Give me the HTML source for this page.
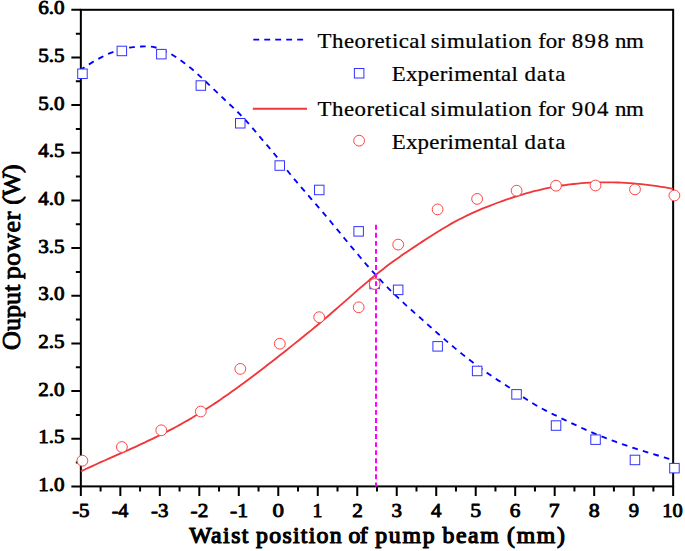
<!DOCTYPE html>
<html lang="en"><head><meta charset="utf-8"><title>Output power vs waist position of pump beam</title>
<style>
html,body{margin:0;padding:0;background:#fff;}
body{width:685px;height:551px;overflow:hidden;}
svg{display:block;}
text{font-family:"Liberation Serif","DejaVu Serif",serif;fill:#000;}
.tick{font-size:18.6px;stroke:#000;stroke-width:0.85px;stroke-linejoin:round;}
.axl{font-size:22.6px;stroke:#000;stroke-width:1.15px;stroke-linejoin:round;}
.leg{font-size:21.9px;stroke:#000;stroke-width:0.25px;}
.yl{font-weight:normal;font-size:25.3px;stroke:#000;stroke-width:0.9px;stroke-linejoin:round;}
</style></head><body>
<svg width="685" height="551" viewBox="0 0 685 551">
<rect width="685" height="551" fill="#fff"/>
<rect x="80.85" y="9.8" width="592.3" height="476.6" fill="none" stroke="#000" stroke-width="2"/>
<path d="M80.85,486.4 v9.5 M100.59,486.4 v5 M120.34,486.4 v9.5 M140.08,486.4 v5 M159.82,486.4 v9.5 M179.57,486.4 v5 M199.31,486.4 v9.5 M219.05,486.4 v5 M238.80,486.4 v9.5 M258.54,486.4 v5 M278.28,486.4 v9.5 M298.03,486.4 v5 M317.77,486.4 v9.5 M337.51,486.4 v5 M357.26,486.4 v9.5 M377.00,486.4 v5 M396.74,486.4 v9.5 M416.49,486.4 v5 M436.23,486.4 v9.5 M455.97,486.4 v5 M475.72,486.4 v9.5 M495.46,486.4 v5 M515.20,486.4 v9.5 M534.95,486.4 v5 M554.69,486.4 v9.5 M574.43,486.4 v5 M594.18,486.4 v9.5 M613.92,486.4 v5 M633.66,486.4 v9.5 M653.41,486.4 v5 M673.15,486.4 v9.5 M80.85,486.40 h-9.5 M80.85,462.57 h-5 M80.85,438.74 h-9.5 M80.85,414.91 h-5 M80.85,391.08 h-9.5 M80.85,367.25 h-5 M80.85,343.42 h-9.5 M80.85,319.59 h-5 M80.85,295.76 h-9.5 M80.85,271.93 h-5 M80.85,248.10 h-9.5 M80.85,224.27 h-5 M80.85,200.44 h-9.5 M80.85,176.61 h-5 M80.85,152.78 h-9.5 M80.85,128.95 h-5 M80.85,105.12 h-9.5 M80.85,81.29 h-5 M80.85,57.46 h-9.5 M80.85,33.63 h-5 M80.85,9.80 h-9.5" stroke="#000" stroke-width="2" fill="none"/>
<path d="M81.8,69.1 L85.8,66.4 L89.8,63.9 L93.7,61.4 L97.7,59.2 L101.7,57.1 L105.6,55.1 L109.6,53.3 L113.5,51.8 L117.5,50.4 L121.5,49.3 L125.4,48.3 L129.4,47.6 L133.4,47.1 L137.3,46.7 L141.3,46.5 L145.2,46.4 L149.2,46.5 L153.2,46.9 L157.1,47.9 L161.1,49.3 L165.0,51.0 L169.0,53.0 L173.0,55.2 L176.9,57.7 L180.9,60.5 L184.9,63.4 L188.8,66.5 L192.8,69.8 L196.7,73.3 L200.7,76.9 L204.7,80.5 L208.6,84.3 L212.6,88.1 L216.5,91.9 L220.5,95.7 L224.5,99.5 L228.4,103.2 L232.4,106.9 L236.4,110.7 L240.3,114.7 L244.3,118.8 L248.2,123.1 L252.2,127.7 L256.2,132.4 L260.1,137.1 L264.1,141.8 L268.1,146.4 L272.0,151.1 L276.0,155.9 L279.9,161.0 L283.9,166.2 L287.9,171.3 L291.8,176.2 L295.8,180.9 L299.7,185.6 L303.7,190.2 L307.7,194.8 L311.6,199.3 L315.6,203.9 L319.6,208.5 L323.5,213.1 L327.5,217.8 L331.4,222.5 L335.4,227.3 L339.4,232.1 L343.3,237.0 L347.3,241.8 L351.2,246.6 L355.2,251.3 L359.2,256.0 L363.1,260.7 L367.1,265.3 L371.1,269.8 L375.0,274.2 L379.0,278.5 L382.9,282.7 L386.9,286.8 L390.9,290.8 L394.8,294.7 L398.8,298.4 L402.8,302.1 L406.7,305.8 L410.7,309.3 L414.6,312.9 L418.6,316.4 L422.6,319.9 L426.5,323.5 L430.5,327.0 L434.4,330.5 L438.4,334.0 L442.4,337.4 L446.3,340.9 L450.3,344.3 L454.3,347.6 L458.2,350.9 L462.2,354.1 L466.1,357.2 L470.1,360.3 L474.1,363.4 L478.0,366.3 L482.0,369.2 L485.9,372.1 L489.9,374.8 L493.9,377.5 L497.8,380.1 L501.8,382.6 L505.8,385.2 L509.7,387.8 L513.7,390.5 L517.6,393.3 L521.6,396.1 L525.6,398.8 L529.5,401.4 L533.5,403.8 L537.5,406.1 L541.4,408.3 L545.4,410.4 L549.3,412.4 L553.3,414.3 L557.3,416.2 L561.2,418.2 L565.2,420.1 L569.1,422.0 L573.1,423.9 L577.1,425.7 L581.0,427.6 L585.0,429.4 L589.0,431.1 L592.9,432.8 L596.9,434.5 L600.8,436.1 L604.8,437.7 L608.8,439.2 L612.7,440.7 L616.7,442.2 L620.6,443.6 L624.6,444.9 L628.6,446.3 L632.5,447.6 L636.5,448.9 L640.5,450.2 L644.4,451.4 L648.4,452.6 L652.3,453.8 L656.3,455.0 L660.3,456.2 L664.2,457.4 L668.2,458.6 L672.1,459.7" fill="none" stroke="#0000ff" stroke-width="1.85" stroke-dasharray="5.7,5.27" stroke-dashoffset="2.49"/>
<g fill="#fff" stroke="#3333ff" stroke-width="1">
<rect x="77.7" y="69.0" width="9.5" height="9.5"/>
<rect x="117.1" y="46.2" width="9.5" height="9.5"/>
<rect x="156.6" y="49.4" width="9.5" height="9.5"/>
<rect x="196.1" y="80.8" width="9.5" height="9.5"/>
<rect x="235.5" y="118.5" width="9.5" height="9.5"/>
<rect x="275.0" y="160.8" width="9.5" height="9.5"/>
<rect x="314.5" y="185.2" width="9.5" height="9.5"/>
<rect x="353.9" y="226.6" width="9.5" height="9.5"/>
<rect x="393.4" y="285.1" width="9.5" height="9.5"/>
<rect x="432.9" y="341.6" width="9.5" height="9.5"/>
<rect x="472.4" y="366.2" width="9.5" height="9.5"/>
<rect x="511.8" y="389.6" width="9.5" height="9.5"/>
<rect x="551.3" y="420.8" width="9.5" height="9.5"/>
<rect x="590.8" y="434.9" width="9.5" height="9.5"/>
<rect x="630.2" y="455.2" width="9.5" height="9.5"/>
<rect x="669.7" y="463.4" width="9.5" height="9.5"/>
<rect x="369.9" y="279.2" width="9.5" height="9.5"/>
</g>
<path d="M80.8,471.4 L84.8,469.5 L88.8,467.7 L92.8,465.8 L96.8,464.0 L100.7,462.2 L104.7,460.5 L108.7,458.7 L112.7,456.9 L116.6,455.2 L120.6,453.4 L124.6,451.6 L128.6,449.9 L132.5,448.1 L136.5,446.3 L140.5,444.4 L144.5,442.6 L148.4,440.7 L152.4,438.8 L156.4,436.9 L160.4,435.0 L164.3,433.0 L168.3,430.9 L172.3,428.9 L176.3,426.7 L180.2,424.6 L184.2,422.3 L188.2,420.1 L192.2,417.7 L196.1,415.3 L200.1,412.9 L204.1,410.4 L208.1,407.8 L212.0,405.2 L216.0,402.6 L220.0,399.9 L224.0,397.1 L227.9,394.4 L231.9,391.5 L235.9,388.7 L239.9,385.8 L243.8,382.9 L247.8,380.0 L251.8,377.0 L255.8,374.0 L259.7,371.0 L263.7,367.9 L267.7,364.8 L271.7,361.8 L275.6,358.7 L279.6,355.5 L283.6,352.4 L287.6,349.3 L291.5,346.1 L295.5,342.9 L299.5,339.8 L303.5,336.5 L307.4,333.3 L311.4,330.1 L315.4,326.8 L319.4,323.5 L323.3,320.1 L327.3,316.7 L331.3,313.3 L335.3,309.8 L339.2,306.4 L343.2,302.9 L347.2,299.4 L351.2,295.9 L355.1,292.4 L359.1,288.9 L363.1,285.5 L367.1,282.1 L371.0,278.8 L375.0,275.5 L379.0,272.3 L383.0,269.2 L386.9,266.1 L390.9,263.1 L394.9,260.2 L398.9,257.4 L402.8,254.6 L406.8,251.9 L410.8,249.2 L414.8,246.6 L418.7,244.0 L422.7,241.4 L426.7,238.8 L430.7,236.3 L434.6,233.8 L438.6,231.3 L442.6,228.8 L446.6,226.5 L450.5,224.1 L454.5,221.9 L458.5,219.8 L462.5,217.8 L466.4,215.8 L470.4,213.9 L474.4,212.1 L478.4,210.4 L482.3,208.7 L486.3,207.1 L490.3,205.6 L494.3,204.0 L498.2,202.5 L502.2,201.1 L506.2,199.7 L510.2,198.3 L514.1,197.0 L518.1,195.8 L522.1,194.6 L526.1,193.4 L530.0,192.3 L534.0,191.2 L538.0,190.3 L542.0,189.3 L545.9,188.4 L549.9,187.6 L553.9,186.9 L557.9,186.2 L561.8,185.5 L565.8,185.0 L569.8,184.4 L573.8,184.0 L577.7,183.6 L581.7,183.2 L585.7,182.9 L589.7,182.7 L593.6,182.5 L597.6,182.4 L601.6,182.3 L605.6,182.3 L609.5,182.3 L613.5,182.4 L617.5,182.5 L621.5,182.7 L625.4,182.9 L629.4,183.1 L633.4,183.4 L637.4,183.8 L641.3,184.2 L645.3,184.6 L649.3,185.1 L653.3,185.6 L657.2,186.2 L661.2,186.8 L665.2,187.4 L669.2,188.1 L673.1,188.8" fill="none" stroke="#f0363a" stroke-width="1.85"/>
<g fill="#fff" stroke="#ff4444" stroke-width="1">
<circle cx="82.4" cy="460.7" r="5.4"/>
<circle cx="121.9" cy="447.0" r="5.4"/>
<circle cx="161.3" cy="430.3" r="5.4"/>
<circle cx="200.8" cy="411.5" r="5.4"/>
<circle cx="240.3" cy="368.9" r="5.4"/>
<circle cx="279.8" cy="343.7" r="5.4"/>
<circle cx="319.2" cy="317.2" r="5.4"/>
<circle cx="358.7" cy="307.3" r="5.4"/>
<circle cx="398.2" cy="244.6" r="5.4"/>
<circle cx="437.6" cy="209.4" r="5.4"/>
<circle cx="477.1" cy="198.9" r="5.4"/>
<circle cx="516.6" cy="190.7" r="5.4"/>
<circle cx="556.0" cy="185.7" r="5.4"/>
<circle cx="595.5" cy="185.5" r="5.4"/>
<circle cx="635.0" cy="189.4" r="5.4"/>
<circle cx="674.4" cy="195.5" r="5.4"/>
<circle cx="374.7" cy="284.0" r="5.4"/>
</g>
<line x1="376" y1="224.8" x2="376" y2="486.4" stroke="#ff00ff" stroke-width="2" stroke-dasharray="4.9,3.15"/>
<text class="leg" transform="translate(0,47.50) scale(1.045,1)"><tspan x="303.93" style="letter-spacing:0.446px">Theoretical</tspan> <tspan x="412.13" style="letter-spacing:0.484px">simulation</tspan> <tspan x="514.97" style="letter-spacing:0.023px">for</tspan> <tspan x="547.12" style="letter-spacing:1.385px">898</tspan> <tspan x="588.52" style="letter-spacing:-0.408px">nm</tspan></text>
<text class="leg" transform="translate(0,116.30) scale(1.045,1)"><tspan x="303.93" style="letter-spacing:0.446px">Theoretical</tspan> <tspan x="412.13" style="letter-spacing:0.484px">simulation</tspan> <tspan x="514.97" style="letter-spacing:0.023px">for</tspan> <tspan x="547.12" style="letter-spacing:1.135px">904</tspan> <tspan x="588.52" style="letter-spacing:-0.408px">nm</tspan></text>
<text class="leg" transform="translate(0,80.90) scale(1.045,1)"><tspan x="374.78" style="letter-spacing:0.265px">Experimental</tspan> <tspan x="501.86" style="letter-spacing:0.910px">data</tspan></text>
<text class="leg" transform="translate(0,148.50) scale(1.045,1)"><tspan x="374.78" style="letter-spacing:0.265px">Experimental</tspan> <tspan x="501.86" style="letter-spacing:0.910px">data</tspan></text>
<text class="axl" transform="translate(0,542.92) scale(1.05,1)"><tspan x="180.17" style="letter-spacing:1.396px">Waist</tspan> <tspan x="243.92" style="letter-spacing:1.236px">position</tspan> <tspan x="331.80" style="letter-spacing:-0.429px">of</tspan> <tspan x="357.35" style="letter-spacing:1.710px">pump</tspan> <tspan x="421.40" style="letter-spacing:1.532px">beam</tspan> <tspan x="482.98" style="letter-spacing:1.615px">(mm)</tspan></text>
<text class="tick" transform="translate(72.13,517.43) scale(1.1250,1)">-5</text>
<text class="tick" transform="translate(111.65,517.43) scale(1.0862,1)">-4</text>
<text class="tick" transform="translate(151.10,517.43) scale(1.1250,1)">-3</text>
<text class="tick" transform="translate(190.58,517.43) scale(1.1455,1)">-2</text>
<text class="tick" transform="translate(230.05,517.43) scale(1.1667,1)">-1</text>
<text class="tick" transform="translate(272.58,517.43) scale(1.2323,1)">0</text>
<text class="tick" transform="translate(312.42,517.43) scale(1.0692,1)">1</text>
<text class="tick" transform="translate(352.13,517.43) scale(1.1400,1)">2</text>
<text class="tick" transform="translate(391.39,517.43) scale(1.1267,1)">3</text>
<text class="tick" transform="translate(431.02,517.43) scale(1.1257,1)">4</text>
<text class="tick" transform="translate(470.18,517.43) scale(1.1667,1)">5</text>
<text class="tick" transform="translate(509.77,517.43) scale(1.1438,1)">6</text>
<text class="tick" transform="translate(548.86,517.43) scale(1.1667,1)">7</text>
<text class="tick" transform="translate(588.72,517.43) scale(1.1806,1)">8</text>
<text class="tick" transform="translate(628.69,517.43) scale(1.1063,1)">9</text>
<text class="tick" transform="translate(662.30,517.43) scale(1.0985,1)">10</text>
<text class="tick" transform="translate(38.24,491.07) scale(1.1348,1)">1.0</text>
<text class="tick" transform="translate(38.24,443.42) scale(1.1348,1)">1.5</text>
<text class="tick" transform="translate(38.24,395.75) scale(1.1348,1)">2.0</text>
<text class="tick" transform="translate(38.24,348.09) scale(1.1348,1)">2.5</text>
<text class="tick" transform="translate(38.24,300.44) scale(1.1348,1)">3.0</text>
<text class="tick" transform="translate(38.24,252.77) scale(1.1348,1)">3.5</text>
<text class="tick" transform="translate(38.24,205.11) scale(1.1348,1)">4.0</text>
<text class="tick" transform="translate(38.24,157.45) scale(1.1348,1)">4.5</text>
<text class="tick" transform="translate(38.24,109.80) scale(1.1348,1)">5.0</text>
<text class="tick" transform="translate(38.24,62.14) scale(1.1348,1)">5.5</text>
<text class="tick" transform="translate(38.24,14.47) scale(1.1348,1)">6.0</text>
<text class="yl" transform="translate(19.7,352.0) rotate(-90) scale(1.03,1)"><tspan x="1.96" style="letter-spacing:0.058px">Ouput</tspan> <tspan x="70.52" style="letter-spacing:0.637px">power</tspan> <tspan x="142.93" style="letter-spacing:-0.658px">(W)</tspan></text>
<line x1="253.3" y1="39.6" x2="304.5" y2="39.6" stroke="#0000ff" stroke-width="1.85" stroke-dasharray="5.9,5.07"/>
<rect x="354.4" y="68.5" width="9.5" height="9.5" fill="#fff" stroke="#3333ff" stroke-width="1"/>
<line x1="252.8" y1="108.7" x2="307" y2="108.7" stroke="#f0363a" stroke-width="1.85"/>
<circle cx="359.1" cy="140.7" r="5.4" fill="none" stroke="#ff4444" stroke-width="1"/>
</svg></body></html>
